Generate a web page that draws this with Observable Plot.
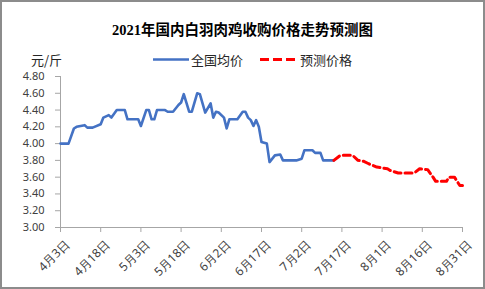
<!DOCTYPE html>
<html><head><meta charset="utf-8">
<script src="https://cdn.jsdelivr.net/npm/d3@7"></script>
<script src="https://cdn.jsdelivr.net/npm/@observablehq/plot@0.6"></script>
<style>
html,body{margin:0;padding:0;background:#fff;}
#wrap{position:relative;width:485px;height:289px;overflow:hidden;background:#fff;}
#chart{position:absolute;left:0;top:0;}
#frame{position:absolute;left:0;top:0;width:485px;height:289px;box-sizing:border-box;border:2px solid #8c8c8c;pointer-events:none;}
#title{position:absolute;left:0;width:485px;top:21px;text-align:center;font:bold 14.5px "Liberation Serif","Noto Sans CJK SC",serif;color:#000;line-height:18px;white-space:nowrap;}
.lg{position:absolute;font:13px "Noto Sans CJK SC","Noto Sans",sans-serif;color:#262626;line-height:16px;top:52px;white-space:nowrap;}
.sw{position:absolute;top:55px;}
</style>
</head><body>
<div id="wrap">
  <div id="chart"></div>
  <div id="title"></div>
  <div class="lg" id="unit" style="left:31px"></div>
  <svg class="sw" style="left:153px" width="36" height="8"><line x1="0" x2="36" y1="4.5" y2="4.5" stroke="#4472c4" stroke-width="2.6"/></svg>
  <div class="lg" id="lg1" style="left:191px"></div>
  <svg class="sw" style="left:260px" width="36" height="8"><line x1="0" x2="36" y1="4.5" y2="4.5" stroke="#ff0000" stroke-width="3" stroke-dasharray="9,4"/></svg>
  <div class="lg" id="lg2" style="left:300px"></div>
  <div id="frame"></div>
</div>
<script>
const titleText = "2021年国内白羽肉鸡收购价格走势预测图";
const unitText = "元/斤";
const seriesNames = ["全国均价", "预测价格"];

const actualDates = ["2021-04-03","2021-04-06","2021-04-08","2021-04-09","2021-04-12","2021-04-13","2021-04-15","2021-04-18","2021-04-19","2021-04-21","2021-04-22","2021-04-24","2021-04-27","2021-04-28","2021-05-02","2021-05-03","2021-05-05","2021-05-06","2021-05-07","2021-05-08","2021-05-09","2021-05-12","2021-05-13","2021-05-15","2021-05-17","2021-05-18","2021-05-19","2021-05-21","2021-05-22","2021-05-24","2021-05-25","2021-05-27","2021-05-29","2021-05-30","2021-05-31","2021-06-01","2021-06-03","2021-06-04","2021-06-05","2021-06-08","2021-06-10","2021-06-11","2021-06-12","2021-06-13","2021-06-14","2021-06-15","2021-06-16","2021-06-17","2021-06-18","2021-06-19","2021-06-20","2021-06-22","2021-06-24","2021-06-25","2021-06-30","2021-07-02","2021-07-03","2021-07-06","2021-07-07","2021-07-09","2021-07-10","2021-07-14"];
const actualValues = [4.00,4.00,4.18,4.20,4.22,4.19,4.19,4.23,4.31,4.34,4.31,4.40,4.40,4.29,4.29,4.21,4.40,4.40,4.29,4.29,4.40,4.40,4.38,4.38,4.46,4.49,4.59,4.38,4.38,4.60,4.59,4.37,4.48,4.31,4.38,4.37,4.31,4.18,4.29,4.29,4.38,4.38,4.31,4.28,4.21,4.28,4.20,4.02,4.01,4.00,3.78,3.86,3.87,3.80,3.80,3.82,3.92,3.92,3.89,3.89,3.80,3.80];

const forecastDates = ["2021-07-14","2021-07-16","2021-07-17","2021-07-21","2021-07-23","2021-07-25","2021-07-27","2021-07-30","2021-08-03","2021-08-04","2021-08-07","2021-08-13","2021-08-15","2021-08-18","2021-08-20","2021-08-21","2021-08-25","2021-08-26","2021-08-28","2021-08-30","2021-08-31"];
const forecastValues = [3.80,3.85,3.86,3.86,3.80,3.79,3.76,3.72,3.70,3.68,3.65,3.65,3.70,3.69,3.60,3.55,3.55,3.60,3.60,3.50,3.50];

const xTickDates = ["2021-04-03","2021-04-18","2021-05-03","2021-05-18","2021-06-02","2021-06-17","2021-07-02","2021-07-17","2021-08-01","2021-08-16","2021-08-31"];
const xTickLabels = ["4月3日","4月18日","5月3日","5月18日","6月2日","6月17日","7月2日","7月17日","8月1日","8月16日","8月31日"];
const yTicks = [3.0,3.2,3.4,3.6,3.8,4.0,4.2,4.4,4.6,4.8];
const yTickLabels = ["3.00","3.20","3.40","3.60","3.80","4.00","4.20","4.40","4.60","4.80"];

document.getElementById("title").textContent = titleText;
document.getElementById("unit").textContent = unitText;
document.getElementById("lg1").textContent = seriesNames[0];
document.getElementById("lg2").textContent = seriesNames[1];

const parse = d3.utcParse("%Y-%m-%d");
const actual = actualDates.map((d, i) => ({date: parse(d), value: actualValues[i]}));
const forecast = forecastDates.map((d, i) => ({date: parse(d), value: forecastValues[i]}));
const xTicks = xTickDates.map(parse);
const xLabelMap = new Map(xTicks.map((d, i) => [+d, xTickLabels[i]]));
const yLabelMap = new Map(yTicks.map((d, i) => [d.toFixed(1), yTickLabels[i]]));

const chart = Plot.plot({
  width: 485, height: 289,
  marginLeft: 60, marginRight: 23, marginTop: 76, marginBottom: 62,
  style: {background: "transparent", fontFamily: "'Noto Sans', sans-serif", fontSize: "11px", color: "#404040"},
  x: {type: "utc", domain: [xTicks[0], xTicks[xTicks.length - 1]]},
  y: {domain: [3.0, 4.8]},
  marks: [
    Plot.axisY({ticks: yTicks, tickFormat: d => yLabelMap.get(d.toFixed(1)), tickSize: 5, tickPadding: 11, label: null, stroke: "#a6a6a6", fill: "#404040"}),
    Plot.axisX({ticks: xTicks, tickSize: 5, tickFormat: () => "", label: null, stroke: "#a6a6a6"}),
    Plot.axisX({ticks: xTicks, tickSize: 0, tickFormat: d => xLabelMap.get(+d), tickRotate: -45, tickPadding: 0, dx: 7, dy: 15, fontSize: 12, label: null, fill: "#404040"}),
    Plot.ruleX([xTicks[0]], {stroke: "#a6a6a6"}),
    Plot.ruleY([3.0], {stroke: "#a6a6a6"}),
    Plot.line(actual, {x: "date", y: "value", stroke: "#4472c4", strokeWidth: 2.6, strokeLinejoin: "round"}),
    Plot.line(forecast, {x: "date", y: "value", stroke: "#ff0000", strokeWidth: 3, strokeDasharray: "7,4"})
  ]
});
document.getElementById("chart").appendChild(chart);
</script>
</body></html>
